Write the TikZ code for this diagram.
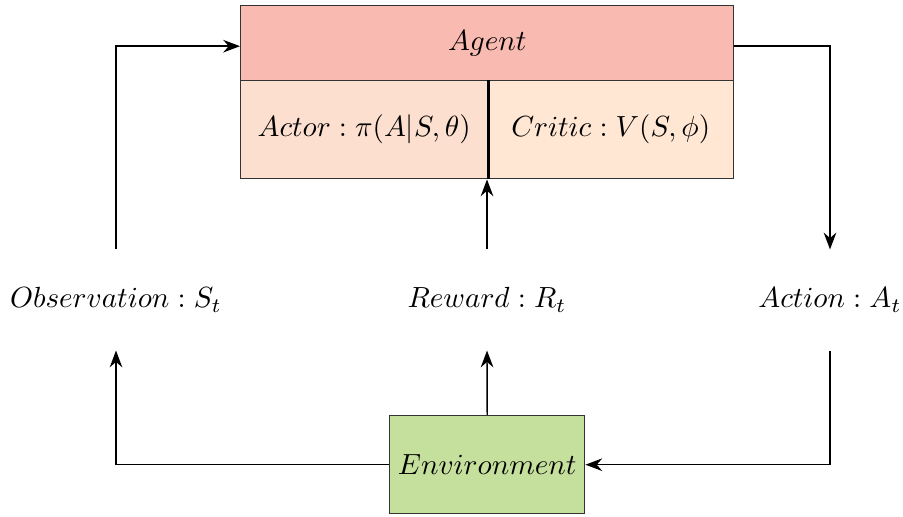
\documentclass[tikz,border=0pt]{standalone}
\usepackage{graphicx}
\usetikzlibrary{arrows.meta,positioning}
\definecolor{agentc}{HTML}{F9BBB1}
\definecolor{actorc}{HTML}{FCDFCF}
\definecolor{criticc}{HTML}{FFE7D4}
\definecolor{envc}{HTML}{C5DF9D}
\definecolor{edgec}{HTML}{333333}
\newcommand{\mtxt}[1]{\scalebox{1.04}{$#1$}}
\begin{document}
\begin{tikzpicture}[x=0.01255cm,y=-0.01255cm,font=\fontsize{10.3}{12}\selectfont,
  box/.style={draw=edgec,line width=0.5pt,inner sep=0pt,anchor=north west},
  lab/.style={inner sep=0pt,minimum height=100*0.01255cm},
  arr/.style={-{Stealth[length=6pt,width=4.5pt]},line width=0.5pt,draw=black}]
\useasboundingbox (0,0) rectangle (903,517);
\node[box,fill=agentc,minimum width=493*0.01255cm,minimum height=75*0.01255cm] (agent) at (240,5) {\mtxt{Agent}};
\node[box,fill=actorc,minimum width=247*0.01255cm,minimum height=98*0.01255cm] (actor) at (240,80) {\mtxt{Actor: \pi(A|S,\theta)}};
\node[box,fill=criticc,minimum width=246*0.01255cm,minimum height=98*0.01255cm] (critic) at (487,80) {\mtxt{Critic: V(S,\phi)}};
\draw[line width=1pt] (actor.north east) -- (actor.south east);
\node[box,fill=envc,minimum width=195*0.01255cm,minimum height=98*0.01255cm] (env) at (389,415) {\mtxt{Environment}};
\node[lab] (obs) at (116,300) {\mtxt{Observation: S_t}};
\node[lab] (rew) at (487,300) {\mtxt{Reward: R_t}};
\node[lab] (act) at (830,300) {\mtxt{Action: A_t}};
\coordinate (ain) at ([yshift=-3*0.01255cm]agent.west);
\coordinate (aout) at ([yshift=-3*0.01255cm]agent.east);
\draw[arr] (obs.north) |- (ain);
\draw[arr] (aout) -| (act.north);
\draw[arr] (rew.north) -- (rew.north |- actor.south);
\draw[arr] (env.north) -- (rew.south);
\draw[arr] (env.west) -| (obs.south);
\draw[arr] (act.south) |- (env.east);
\end{tikzpicture}
\end{document}
